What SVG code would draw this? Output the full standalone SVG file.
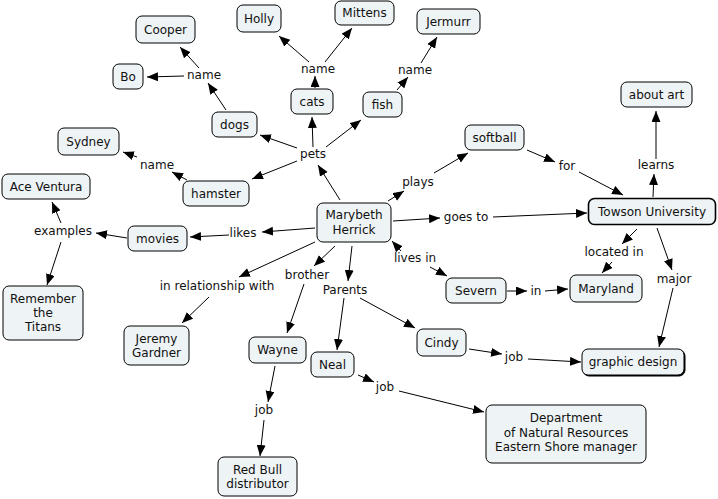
<svg xmlns="http://www.w3.org/2000/svg" width="718" height="499" viewBox="0 0 718 499">
<style>
.n rect{fill:#eef3f5;stroke:#000;stroke-width:1}
.n text,.l text{font-family:"DejaVu Sans","Verdana",sans-serif;font-size:12px;fill:#111;text-anchor:middle}
#conn line{stroke:#000;stroke-width:1;marker-end:url(#ah)}
</style>
<defs>
<marker id="ah" markerUnits="userSpaceOnUse" markerWidth="12" markerHeight="10" refX="11" refY="4.5" orient="auto"><path d="M0,0 L11,4.5 L0,9 z" fill="#000"/></marker>
</defs>
<rect width="718" height="499" fill="#fff"/>
<g id="conn">
<line x1="199" y1="68" x2="180" y2="47"/>
<line x1="184" y1="76" x2="147" y2="77"/>
<line x1="226" y1="110" x2="208" y2="83"/>
<line x1="309" y1="62" x2="279" y2="36"/>
<line x1="325" y1="62" x2="352" y2="28"/>
<line x1="315" y1="88" x2="315" y2="76"/>
<line x1="313" y1="147" x2="312" y2="117"/>
<line x1="297" y1="148" x2="260" y2="135"/>
<line x1="326" y1="147" x2="361" y2="120"/>
<line x1="297" y1="161" x2="252" y2="179"/>
<line x1="340" y1="200" x2="318" y2="165"/>
<line x1="187" y1="180" x2="172" y2="172"/>
<line x1="137" y1="157" x2="123" y2="152"/>
<line x1="397" y1="90" x2="408" y2="77"/>
<line x1="421" y1="63" x2="437" y2="37"/>
<line x1="527" y1="150" x2="555" y2="162"/>
<line x1="579" y1="172" x2="623" y2="195"/>
<line x1="653" y1="197" x2="654" y2="174"/>
<line x1="656" y1="159" x2="656" y2="111"/>
<line x1="434" y1="173" x2="468" y2="153"/>
<line x1="388" y1="201" x2="404" y2="191"/>
<line x1="393" y1="221" x2="440" y2="218"/>
<line x1="493" y1="217" x2="587" y2="213"/>
<line x1="637" y1="229" x2="622" y2="244"/>
<line x1="612" y1="262" x2="602" y2="273"/>
<line x1="657" y1="228" x2="672" y2="270"/>
<line x1="673" y1="288" x2="659" y2="347"/>
<line x1="401" y1="251" x2="392" y2="241"/>
<line x1="430" y1="267" x2="447" y2="276"/>
<line x1="507" y1="291" x2="527" y2="291"/>
<line x1="545" y1="291" x2="568" y2="289"/>
<line x1="335" y1="246" x2="314" y2="266"/>
<line x1="352" y1="246" x2="348" y2="281"/>
<line x1="344" y1="298" x2="337" y2="350"/>
<line x1="360" y1="298" x2="415" y2="328"/>
<line x1="469" y1="349" x2="502" y2="354"/>
<line x1="528" y1="359" x2="581" y2="362"/>
<line x1="315" y1="228" x2="262" y2="232"/>
<line x1="229" y1="235" x2="190" y2="237"/>
<line x1="127" y1="238" x2="96" y2="233"/>
<line x1="61" y1="223" x2="52" y2="202"/>
<line x1="61" y1="242" x2="47" y2="285"/>
<line x1="315" y1="242" x2="239" y2="277"/>
<line x1="209" y1="297" x2="182" y2="323"/>
<line x1="304" y1="284" x2="287" y2="333"/>
<line x1="275" y1="366" x2="268" y2="402"/>
<line x1="264" y1="420" x2="260" y2="456"/>
<line x1="358" y1="375" x2="374" y2="382"/>
<line x1="399" y1="391" x2="484" y2="412"/>
</g>
<g class="l" id="labels">
<text x="204" y="79">name</text>
<text x="318" y="73">name</text>
<text x="415" y="74">name</text>
<text x="157" y="169">name</text>
<text x="313" y="158">pets</text>
<text x="63" y="235">examples</text>
<text x="243" y="237">likes</text>
<text x="217" y="290">in relationship with</text>
<text x="307" y="279">brother</text>
<text x="345" y="294">Parents</text>
<text x="418" y="186">plays</text>
<text x="466" y="221">goes to</text>
<text x="567" y="170">for</text>
<text x="656" y="169">learns</text>
<text x="415" y="262">lives in</text>
<text x="614" y="256">located in</text>
<text x="674" y="283">major</text>
<text x="536" y="295">in</text>
<text x="514" y="361">job</text>
<text x="385" y="391">job</text>
<text x="264" y="414">job</text>
</g>
<g class="n" id="cooper"><rect x="136" y="16" width="59" height="27" rx="6"/><text x="165.5" y="34">Cooper</text></g>
<g class="n" id="bo"><rect x="113" y="64" width="30" height="25" rx="6"/><text x="128" y="81">Bo</text></g>
<g class="n" id="holly"><rect x="237" y="5" width="44" height="27" rx="6"/><text x="259" y="23">Holly</text></g>
<g class="n" id="mittens"><rect x="335" y="1" width="59" height="24" rx="6"/><text x="364.5" y="17">Mittens</text></g>
<g class="n" id="cats"><rect x="291" y="89" width="42" height="25" rx="6"/><text x="312" y="106">cats</text></g>
<g class="n" id="fish"><rect x="363" y="92" width="39" height="25" rx="6"/><text x="382.5" y="109">fish</text></g>
<g class="n" id="dogs"><rect x="212" y="112" width="45" height="25" rx="6"/><text x="234.5" y="129">dogs</text></g>
<g class="n" id="sydney"><rect x="58" y="128" width="61" height="27" rx="6"/><text x="88.5" y="146">Sydney</text></g>
<g class="n" id="hamster"><rect x="183" y="181" width="66" height="25" rx="6"/><text x="216" y="198">hamster</text></g>
<g class="n" id="ace"><rect x="2" y="174" width="88" height="25" rx="6"/><text x="46" y="191">Ace Ventura</text></g>
<g class="n" id="movies"><rect x="128" y="226" width="59" height="25" rx="6"/><text x="157.5" y="243">movies</text></g>
<g class="n" id="titans"><rect x="3" y="286" width="80" height="54" rx="6"/><text x="43" y="303">Remember</text><text x="43" y="317">the</text><text x="43" y="331">Titans</text></g>
<g class="n" id="jeremy"><rect x="124" y="326" width="65" height="39" rx="6"/><text x="156.5" y="343">Jeremy</text><text x="156.5" y="357">Gardner</text></g>
<g class="n" id="wayne"><rect x="249" y="337" width="57" height="26" rx="6"/><text x="277.5" y="354">Wayne</text></g>
<g class="n" id="neal"><rect x="311" y="352" width="43" height="25" rx="6"/><text x="332.5" y="369">Neal</text></g>
<g class="n" id="marybeth"><rect x="317" y="203" width="74" height="39" rx="6"/><text x="354" y="219">Marybeth</text><text x="354" y="234">Herrick</text></g>
<g class="n" id="softball"><rect x="465" y="125" width="59" height="25" rx="6"/><text x="494.5" y="142">softball</text></g>
<g class="n" id="jermurr"><rect x="417" y="9" width="63" height="25" rx="6"/><text x="448.5" y="26">Jermurr</text></g>
<g class="n" id="aboutart"><rect x="621" y="82" width="71" height="25" rx="6"/><text x="656.5" y="99">about art</text></g>
<g class="n" id="towson"><rect x="588.5" y="198.5" width="127" height="26" rx="6" style="stroke-width:1.6"/><text x="652" y="216">Towson University</text></g>
<g class="n" id="severn"><rect x="446" y="278" width="60" height="25" rx="6"/><text x="476" y="295">Severn</text></g>
<g class="n" id="maryland"><rect x="570" y="275" width="72" height="27" rx="6"/><text x="606" y="293">Maryland</text></g>
<g class="n" id="cindy"><rect x="417" y="329" width="49" height="27" rx="6"/><text x="441.5" y="347">Cindy</text></g>
<g class="n" id="graphic"><rect x="583" y="350" width="102" height="26" rx="6" style="fill:#000;stroke:#000"/><rect x="582" y="349" width="102" height="26" rx="6"/><text x="633" y="366">graphic design</text></g>
<g class="n" id="dnr"><rect x="486" y="405" width="160" height="58" rx="6"/><text x="566" y="422">Department</text><text x="566" y="437">of Natural Resources</text><text x="566" y="451">Eastern Shore manager</text></g>
<g class="n" id="redbull"><rect x="218" y="457" width="79" height="39" rx="6"/><text x="257.5" y="474">Red Bull</text><text x="257.5" y="488">distributor</text></g>
</svg>
